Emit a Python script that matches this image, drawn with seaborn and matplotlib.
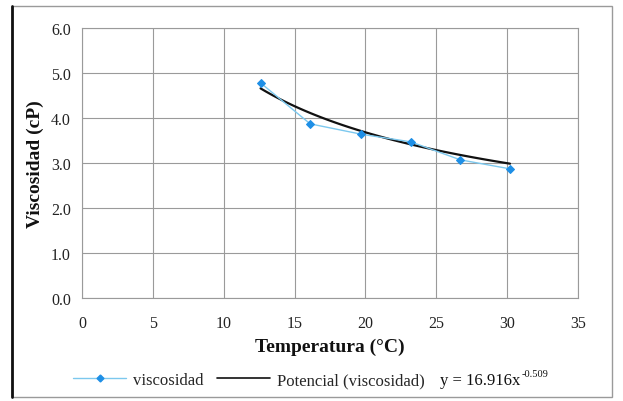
import numpy as np
import pandas as pd
import matplotlib
matplotlib.use("Agg")
import matplotlib.pyplot as plt
import seaborn as sns
from matplotlib.lines import Line2D
from matplotlib.patches import Rectangle

temperatura = [12.6, 16.1, 19.7, 23.2, 26.7, 30.2]
viscosidad = [4.78, 3.87, 3.64, 3.47, 3.07, 2.87]
coef_a = 16.916
coef_b = -0.509
x_ticks = [0, 5, 10, 15, 20, 25, 30, 35]
y_ticks = [0.0, 1.0, 2.0, 3.0, 4.0, 5.0, 6.0]

sns.set_theme(style="white")
plt.rcParams['font.family'] = ['Liberation Serif', 'DejaVu Serif']

fig = plt.figure(figsize=(6.23, 4.02), dpi=100)
ax = fig.add_axes([82/623, 1-299/402, (578-82)/623, (299-29)/402])

df = pd.DataFrame({"T": temperatura, "V": viscosidad})
xt = np.linspace(min(temperatura), max(temperatura), 100)
dft = pd.DataFrame({"T": xt, "V": coef_a * xt ** coef_b})

sns.lineplot(data=df, x="T", y="V", ax=ax, color="#7cc8ee", lw=1.0,
             marker="D", markersize=4.5, markerfacecolor="#1e8fe6",
             markeredgecolor="#1e8fe6", zorder=3)
sns.lineplot(data=dft, x="T", y="V", ax=ax, color="#111111", lw=1.6, zorder=2)

ax.set_xlim(0, 35)
ax.set_ylim(0, 6)
ax.set_xticks(x_ticks)
ax.set_yticks(y_ticks)
ax.set_xticklabels([str(t) for t in x_ticks], fontsize=11.5)
ax.set_yticklabels([f"{t:.1f}" for t in y_ticks], fontsize=11.5)
ax.grid(True, color="#9a9a9a", lw=0.8)
for s in ax.spines.values():
    s.set_color("#9a9a9a")
    s.set_linewidth(0.8)
ax.tick_params(axis="x", length=0, pad=12, colors="#222222")
ax.tick_params(axis="y", length=0, pad=8, colors="#222222")
ax.set_xlabel("Temperatura (°C)", fontsize=14, fontweight="bold", labelpad=5, color="#111111")
ax.set_ylabel("Viscosidad (cP)", fontsize=14, fontweight="bold", labelpad=5, color="#111111")

# frame
fig.patches.append(Rectangle((12/623, 4/402), (612-12)/623, (395-4)/402,
                             transform=fig.transFigure, fill=False,
                             edgecolor="#9a9a9a", lw=1.0))
fig.add_artist(Line2D([12/623, 12/623], [4/402, 395/402], transform=fig.transFigure,
                      color="#111111", lw=2.0))

h1 = Line2D([], [], color="#7cc8ee", lw=1.0, marker="D", markersize=3.5,
            markerfacecolor="#1e8fe6", markeredgecolor="#1e8fe6")
h2 = Line2D([], [], color="#111111", lw=1.2)
fig.legend([h1, h2], ["viscosidad", "Potencial (viscosidad)"], loc="center left",
           bbox_to_anchor=(58/623, 1-381/402), ncol=2, frameon=False,
           fontsize=12, handlelength=3.2, columnspacing=0.8, handletextpad=0.4)
t = fig.text(440/623, 1-381/402, f"y = {coef_a}x", fontsize=12,
             va="center", ha="left", color="#111111")
fig.text(0, 0, "")
ann = plt.annotate(f"{coef_b}", xy=(1, 0.62), xycoords=t, xytext=(1, 0),
                   textcoords="offset points", fontsize=7.5,
                   va="bottom", ha="left", color="#111111")

fig.savefig("out.png", dpi=100)
